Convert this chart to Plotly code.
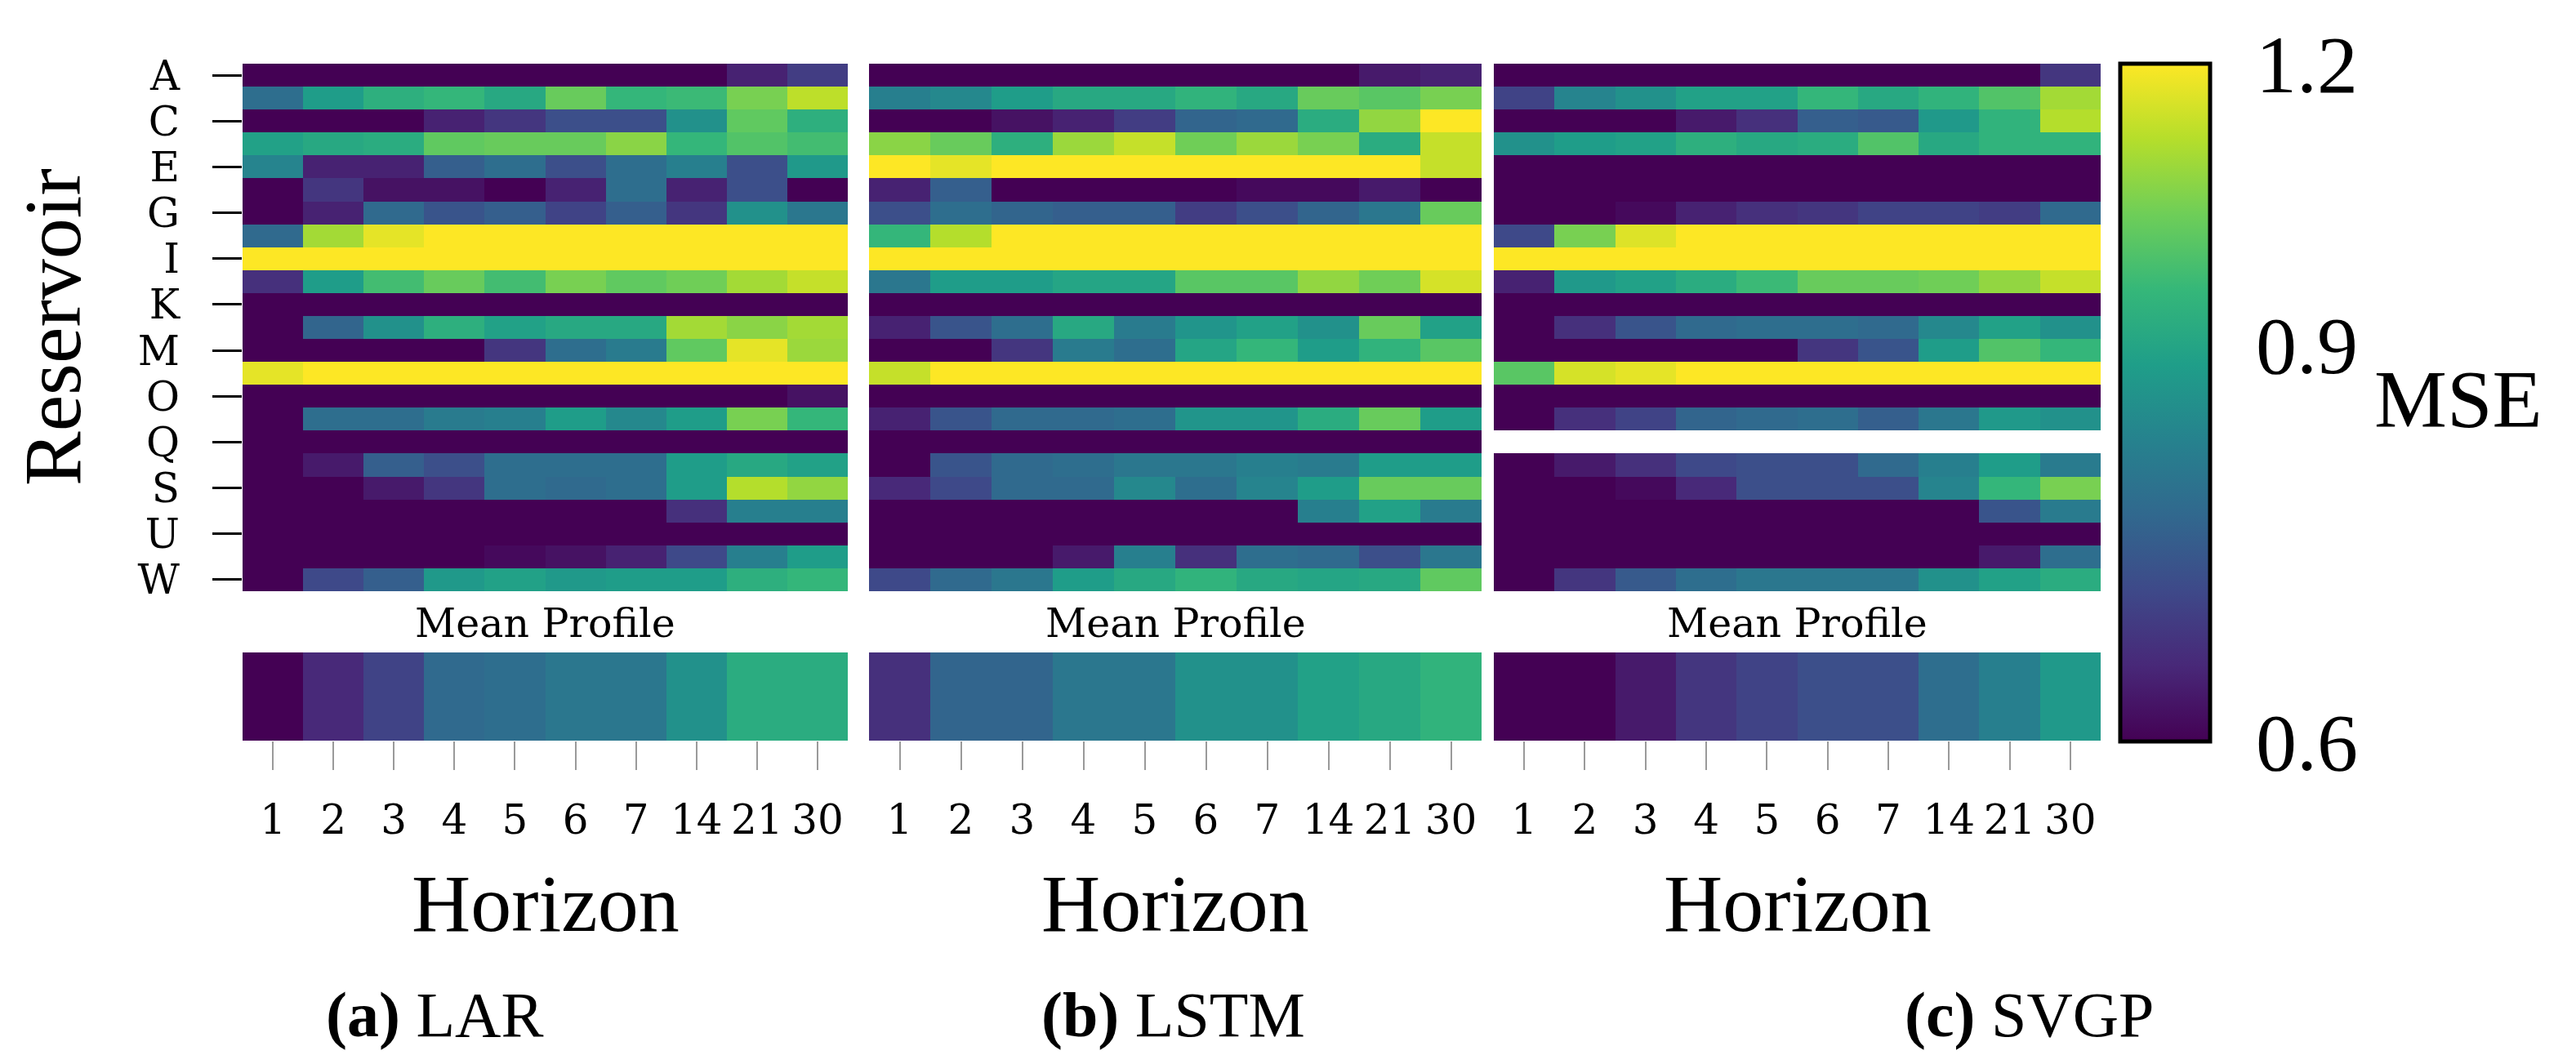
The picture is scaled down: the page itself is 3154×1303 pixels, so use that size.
import numpy as np
import plotly.graph_objects as go

# forecast horizons (columns) and reservoirs (rows)
horizons = ['1', '2', '3', '4', '5', '6', '7', '14', '21', '30']
reservoirs = list('ABCDEFGHIJKLMNOPQRSTUVW')
shown_rows = reservoirs[::2]

# MSE per reservoir (rows A..W) and horizon
lar_mse = [
    [0.55, 0.55, 0.55, 0.55, 0.55, 0.55, 0.55, 0.55, 0.64, 0.68],
    [0.77, 0.88, 0.93, 0.95, 0.91, 1.02, 0.95, 0.96, 1.04, 1.12],
    [0.55, 0.55, 0.55, 0.64, 0.67, 0.71, 0.71, 0.85, 1.01, 0.93],
    [0.89, 0.91, 0.92, 1.01, 1.02, 1.02, 1.06, 0.95, 0.99, 0.97],
    [0.82, 0.64, 0.64, 0.74, 0.77, 0.71, 0.77, 0.81, 0.71, 0.87],
    [0.57, 0.67, 0.62, 0.62, 0.58, 0.64, 0.77, 0.64, 0.71, 0.57],
    [0.59, 0.64, 0.76, 0.72, 0.74, 0.69, 0.74, 0.67, 0.85, 0.79],
    [0.76, 1.09, 1.17, 1.28, 1.31, 1.35, 1.33, 1.38, 1.42, 1.45],
    [1.52, 1.58, 1.60, 1.63, 1.66, 1.70, 1.72, 1.75, 1.80, 1.82],
    [0.66, 0.88, 0.97, 1.02, 0.97, 1.04, 1.01, 1.03, 1.09, 1.13],
    [0.48, 0.49, 0.50, 0.50, 0.51, 0.51, 0.52, 0.52, 0.53, 0.54],
    [0.58, 0.75, 0.85, 0.93, 0.89, 0.91, 0.91, 1.09, 1.06, 1.09],
    [0.54, 0.56, 0.57, 0.58, 0.67, 0.77, 0.80, 1.01, 1.17, 1.08],
    [1.17, 1.25, 1.30, 1.32, 1.35, 1.38, 1.40, 1.44, 1.48, 1.50],
    [0.50, 0.51, 0.51, 0.52, 0.53, 0.54, 0.55, 0.56, 0.58, 0.62],
    [0.58, 0.77, 0.77, 0.80, 0.81, 0.88, 0.83, 0.88, 1.04, 0.95],
    [0.45, 0.46, 0.47, 0.48, 0.49, 0.50, 0.50, 0.51, 0.52, 0.53],
    [0.57, 0.63, 0.74, 0.71, 0.77, 0.77, 0.77, 0.88, 0.91, 0.89],
    [0.55, 0.58, 0.63, 0.67, 0.77, 0.76, 0.77, 0.88, 1.11, 1.07],
    [0.52, 0.53, 0.54, 0.55, 0.56, 0.57, 0.58, 0.66, 0.81, 0.81],
    [0.48, 0.49, 0.50, 0.50, 0.51, 0.52, 0.53, 0.54, 0.55, 0.56],
    [0.55, 0.56, 0.57, 0.59, 0.61, 0.62, 0.64, 0.70, 0.81, 0.88],
    [0.59, 0.70, 0.74, 0.87, 0.89, 0.87, 0.88, 0.88, 0.93, 0.95],
]
lstm_mse = [
    [0.53, 0.54, 0.54, 0.55, 0.55, 0.56, 0.57, 0.60, 0.63, 0.64],
    [0.81, 0.83, 0.88, 0.91, 0.91, 0.94, 0.91, 1.02, 1.00, 1.04],
    [0.56, 0.58, 0.62, 0.64, 0.68, 0.75, 0.76, 0.92, 1.07, 1.25],
    [1.06, 1.02, 0.93, 1.08, 1.13, 1.03, 1.08, 1.04, 0.92, 1.13],
    [1.25, 1.17, 1.30, 1.33, 1.36, 1.38, 1.40, 1.42, 1.45, 1.13],
    [0.64, 0.74, 0.55, 0.56, 0.57, 0.58, 0.61, 0.61, 0.63, 0.58],
    [0.71, 0.77, 0.75, 0.74, 0.74, 0.68, 0.71, 0.75, 0.79, 1.02],
    [0.95, 1.11, 1.25, 1.28, 1.30, 1.33, 1.36, 1.40, 1.43, 1.46],
    [1.50, 1.55, 1.58, 1.60, 1.62, 1.65, 1.68, 1.70, 1.74, 1.78],
    [0.79, 0.88, 0.88, 0.90, 0.90, 1.00, 1.00, 1.07, 1.03, 1.15],
    [0.49, 0.50, 0.50, 0.51, 0.52, 0.52, 0.53, 0.54, 0.55, 0.56],
    [0.64, 0.72, 0.77, 0.91, 0.80, 0.86, 0.89, 0.85, 1.02, 0.89],
    [0.56, 0.58, 0.67, 0.80, 0.77, 0.90, 0.95, 0.88, 0.94, 1.00],
    [1.13, 1.27, 1.30, 1.33, 1.35, 1.37, 1.40, 1.43, 1.46, 1.50],
    [0.47, 0.48, 0.49, 0.50, 0.50, 0.51, 0.52, 0.53, 0.54, 0.55],
    [0.64, 0.72, 0.76, 0.76, 0.77, 0.86, 0.86, 0.92, 1.02, 0.88],
    [0.46, 0.47, 0.48, 0.49, 0.50, 0.51, 0.52, 0.53, 0.54, 0.55],
    [0.57, 0.72, 0.76, 0.77, 0.79, 0.79, 0.81, 0.80, 0.88, 0.88],
    [0.65, 0.70, 0.76, 0.76, 0.83, 0.77, 0.82, 0.88, 1.02, 1.02],
    [0.52, 0.53, 0.54, 0.55, 0.56, 0.57, 0.58, 0.81, 0.89, 0.80],
    [0.48, 0.49, 0.50, 0.51, 0.52, 0.53, 0.54, 0.55, 0.56, 0.57],
    [0.55, 0.57, 0.58, 0.63, 0.81, 0.66, 0.77, 0.76, 0.71, 0.79],
    [0.70, 0.76, 0.79, 0.88, 0.91, 0.94, 0.91, 0.90, 0.91, 1.01],
]
svgp_mse = [
    [0.52, 0.53, 0.54, 0.55, 0.55, 0.56, 0.57, 0.58, 0.59, 0.67],
    [0.69, 0.82, 0.85, 0.89, 0.89, 0.95, 0.91, 0.94, 0.99, 1.09],
    [0.56, 0.57, 0.58, 0.63, 0.66, 0.74, 0.73, 0.87, 0.94, 1.11],
    [0.85, 0.88, 0.89, 0.93, 0.91, 0.92, 0.99, 0.91, 0.94, 0.94],
    [0.45, 0.46, 0.47, 0.48, 0.49, 0.50, 0.50, 0.51, 0.52, 0.53],
    [0.46, 0.47, 0.48, 0.49, 0.50, 0.51, 0.52, 0.53, 0.54, 0.55],
    [0.57, 0.59, 0.61, 0.64, 0.66, 0.67, 0.69, 0.69, 0.68, 0.76],
    [0.70, 1.04, 1.16, 1.26, 1.30, 1.33, 1.36, 1.39, 1.42, 1.45],
    [1.48, 1.52, 1.56, 1.60, 1.63, 1.66, 1.70, 1.72, 1.75, 1.80],
    [0.64, 0.87, 0.89, 0.92, 0.96, 1.02, 1.02, 1.03, 1.07, 1.13],
    [0.48, 0.49, 0.50, 0.50, 0.51, 0.52, 0.53, 0.54, 0.55, 0.56],
    [0.57, 0.66, 0.72, 0.76, 0.77, 0.77, 0.76, 0.83, 0.89, 0.85],
    [0.53, 0.54, 0.55, 0.56, 0.58, 0.67, 0.72, 0.88, 0.99, 0.95],
    [1.00, 1.15, 1.17, 1.25, 1.28, 1.31, 1.34, 1.37, 1.40, 1.44],
    [0.47, 0.48, 0.49, 0.50, 0.51, 0.52, 0.53, 0.54, 0.55, 0.56],
    [0.58, 0.66, 0.69, 0.75, 0.76, 0.77, 0.74, 0.79, 0.87, 0.85],
    [None] * 10,
    [0.57, 0.63, 0.66, 0.70, 0.71, 0.71, 0.76, 0.81, 0.88, 0.80],
    [0.55, 0.58, 0.61, 0.65, 0.71, 0.71, 0.71, 0.82, 0.95, 1.04],
    [0.50, 0.51, 0.52, 0.53, 0.54, 0.55, 0.56, 0.57, 0.72, 0.80],
    [0.47, 0.48, 0.49, 0.50, 0.51, 0.52, 0.53, 0.54, 0.55, 0.56],
    [0.50, 0.51, 0.52, 0.53, 0.54, 0.55, 0.56, 0.58, 0.63, 0.77],
    [0.58, 0.67, 0.73, 0.77, 0.79, 0.79, 0.79, 0.85, 0.89, 0.92],
]

# mean profile per horizon
lar_mean = [0.59, 0.65, 0.69, 0.76, 0.77, 0.79, 0.79, 0.85, 0.92, 0.92]
lstm_mean = [0.66, 0.75, 0.75, 0.79, 0.79, 0.85, 0.85, 0.89, 0.91, 0.94]
svgp_mean = [0.56, 0.58, 0.63, 0.67, 0.69, 0.71, 0.71, 0.77, 0.81, 0.87]

model_names = ['LAR', 'LSTM', 'SVGP']
panel_tags = ['(a)', '(b)', '(c)']
cbar_ticks = [0.6, 0.9, 1.2]

# page has an 8px body margin, so the figure is a bit smaller than the window
OFF = 8
W, H = 3154 - 2 * OFF, 1303 - 2 * OFF
SERIF = 'Liberation Serif'
SMALL = 'DejaVu Serif'


def px(x):
    return (x - OFF) / W


def py(y):
    return 1 - (y - OFF) / H


def to_log(values):
    return np.log10(np.array(values, dtype=float))


zmin, zmax = np.log10(0.6), np.log10(1.2)

panels_x = [(297, 1038), (1064, 1814), (1829, 2572)]
captions_x = [532, 1436, 2485]
heat_top, heat_bot = 78, 724
mean_top, mean_bot = 799, 907


def label(text, x, y, size, family=SERIF, angle=0):
    fig.add_annotation(text=text, x=px(x), y=py(y), textangle=angle,
                       xref='paper', yref='paper', showarrow=False,
                       xanchor='center', yanchor='middle',
                       font=dict(family=family, size=size, color='black'))


fig = go.Figure()

models = [(lar_mse, lar_mean), (lstm_mse, lstm_mean), (svgp_mse, svgp_mean)]

for i, (grid, mean) in enumerate(models):
    top_ax = 2 * i + 1
    bot_ax = 2 * i + 2
    fig.add_trace(go.Heatmap(
        z=to_log(grid), x=horizons, y=reservoirs,
        xaxis=f'x{top_ax}', yaxis=f'y{top_ax}',
        colorscale='Viridis', zmin=zmin, zmax=zmax,
        showscale=False, hoverongaps=False,
    ))
    fig.add_trace(go.Heatmap(
        z=to_log([mean]), x=horizons, y=['Mean'],
        xaxis=f'x{bot_ax}', yaxis=f'y{bot_ax}',
        colorscale='Viridis', zmin=zmin, zmax=zmax,
        showscale=(i == 2),
        colorbar=dict(
            x=px(2596), xanchor='left', xpad=0,
            y=py(78), yanchor='top', ypad=0,
            len=(908 - 78) / H, lenmode='fraction',
            thickness=110, outlinewidth=5, outlinecolor='black',
            tickvals=list(np.log10(cbar_ticks)),
            ticktext=[str(t) for t in cbar_ticks],
            ticks='outside', ticklen=34, tickcolor='white',
            tickfont=dict(family=SERIF, size=100, color='black'),
        ),
    ))

    x0, x1 = panels_x[i]
    fig.layout[f'xaxis{top_ax}'] = dict(
        domain=[px(x0), px(x1)], anchor=f'y{top_ax}', automargin=False,
        showticklabels=False, ticks='', showgrid=False, zeroline=False,
    )
    fig.layout[f'xaxis{bot_ax}'] = dict(
        domain=[px(x0), px(x1)], anchor=f'y{bot_ax}', automargin=False,
        ticks='outside', ticklen=35, tickwidth=2, tickcolor='#9a9a9a',
        ticklabelstandoff=18, showgrid=False, zeroline=False,
        tickfont=dict(family=SMALL, size=50, color='black'),
    )
    ytop = dict(
        domain=[py(heat_bot), py(heat_top)], anchor=f'x{top_ax}',
        automargin=False, autorange='reversed',
        showgrid=False, zeroline=False,
        categoryorder='array', categoryarray=reservoirs,
    )
    if i == 0:
        ytop.update(
            tickvals=shown_rows, ticks='outside', ticklen=36, tickwidth=3,
            tickcolor='black', ticklabelstandoff=30,
            tickfont=dict(family=SMALL, size=50, color='black'),
        )
    else:
        ytop.update(showticklabels=False, ticks='')
    fig.layout[f'yaxis{top_ax}'] = ytop
    fig.layout[f'yaxis{bot_ax}'] = dict(
        domain=[py(mean_bot), py(mean_top)], anchor=f'x{bot_ax}',
        automargin=False, showticklabels=False, ticks='',
        showgrid=False, zeroline=False,
    )

    cx = (x0 + x1) / 2
    label('Mean Profile', cx, 763, 49, family=SMALL)
    label('Horizon', cx, 1106, 100)
    label(f'<b>{panel_tags[i]}</b> {model_names[i]}', captions_x[i], 1242, 78)

label('Reservoir', 64, 401, 100, angle=-90)
label('MSE', 3010, 488, 100)

fig.update_layout(
    width=W, height=H,
    margin=dict(l=0, r=0, t=0, b=0, autoexpand=False),
    paper_bgcolor='white', plot_bgcolor='white',
    font=dict(family=SERIF, color='black'),
)

fig.write_html('out.html')
